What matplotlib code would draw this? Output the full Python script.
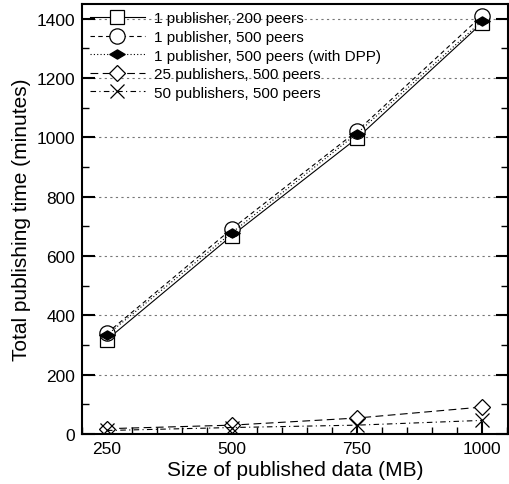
import matplotlib
matplotlib.use("Agg")
import matplotlib.pyplot as plt
from matplotlib.ticker import MultipleLocator
from matplotlib.path import Path

plt.rcParams['font.family'] = ['Liberation Sans', 'DejaVu Sans']

sizes = [250, 500, 750, 1000]
pub1_200 = [318, 669, 997, 1385]
pub1_500 = [340, 692, 1021, 1410]
pub1_500_dpp = [334, 679, 1013, 1392]
pub25_500 = [18, 30, 54, 91]
pub50_500 = [12, 22, 30, 46]

labels = ["1 publisher, 200 peers", "1 publisher, 500 peers",
          "1 publisher, 500 peers (with DPP)", "25 publishers, 500 peers",
          "50 publishers, 500 peers"]

# flat filled diamond used for the DPP series
flat_diamond = Path([(-1, 0), (0, 0.6), (1, 0), (0, -0.6), (-1, 0)],
                    [Path.MOVETO, Path.LINETO, Path.LINETO, Path.LINETO, Path.CLOSEPOLY])

fig = plt.figure(figsize=(5.09, 4.85), dpi=100)
ax = fig.add_axes([0.161, 0.103, 0.837, 0.887])

lw = 0.8
ax.plot(sizes, pub1_200, color='black', lw=lw, ls='-', marker='s', ms=10,
        mfc='white', mec='black', mew=0.9, label=labels[0])
ax.plot(sizes, pub1_500, color='black', lw=lw, ls=(0, (4, 3)), marker='o', ms=11,
        mfc='white', mec='black', mew=0.9, label=labels[1])
ax.plot(sizes, pub1_500_dpp, color='black', lw=lw, ls=(0, (1, 2)), marker=flat_diamond, ms=11,
        mfc='black', mec='black', label=labels[2])
ax.plot(sizes, pub25_500, color='black', lw=lw, ls=(0, (7, 4)), marker='D', ms=8.5,
        mfc='white', mec='black', mew=0.9, label=labels[3])
ax.plot(sizes, pub50_500, color='black', lw=lw, ls=(0, (5, 3, 1, 3)), marker='x', ms=10,
        mec='black', mew=0.9, label=labels[4])

ax.set_xlim(200, 1052)
ax.set_ylim(0, 1450)
ax.set_xticks(sizes)
ax.yaxis.set_major_locator(MultipleLocator(200))
ax.yaxis.set_minor_locator(MultipleLocator(100))
ax.xaxis.set_minor_locator(MultipleLocator(50))
ax.tick_params(which='both', direction='in', top=False, right=True, labelsize=12.5, colors='black')
ax.tick_params(which='major', length=9, width=1.5)
ax.tick_params(which='minor', length=5, width=1)
ax.tick_params(axis='y', pad=5)
ax.tick_params(axis='x', pad=5)

ax.grid(axis='y', which='major', color='#777777', ls=(0, (2, 3)), lw=0.8)
for s in ax.spines.values():
    s.set_linewidth(1.5)

ax.set_xlabel("Size of published data (MB)", fontsize=15, labelpad=3)
ax.set_ylabel("Total publishing time (minutes)", fontsize=15, labelpad=4)

ax.legend(loc='upper left', frameon=False, fontsize=11, handlelength=3.6,
          labelspacing=0.3, borderaxespad=0.3, handletextpad=0.6,
          borderpad=0.2)

fig.savefig("out.png", dpi=100)
